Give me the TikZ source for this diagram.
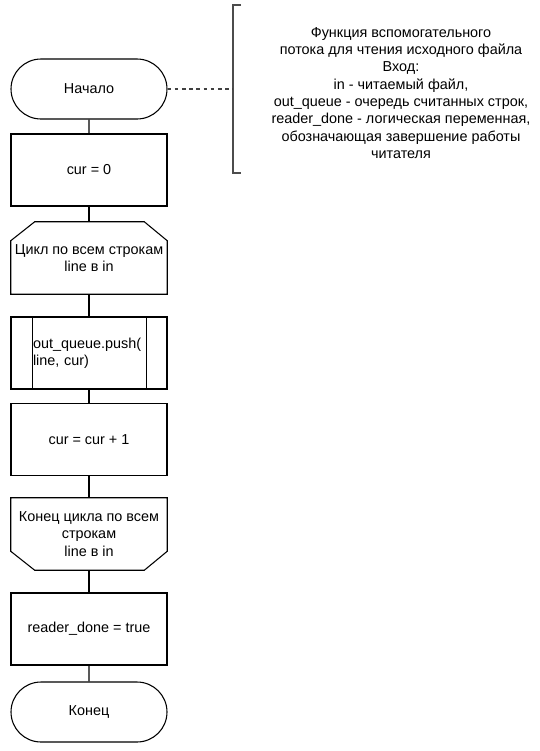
\documentclass[tikz,border=0pt]{standalone}
\usepackage{fontspec}
\setmainfont{Liberation Sans}
\usetikzlibrary{shapes.misc,calc}
\begin{document}
\begin{tikzpicture}[x=0.75pt,y=-0.75pt,
  every node/.style={font=\fontsize{10.8pt}{13pt}\selectfont},
  line/.style={draw=black,line width=0.8pt},
  term/.style={rounded rectangle,line,minimum width=117pt,minimum height=45pt,inner sep=0pt,align=center},
  proc/.style={rectangle,line,minimum width=117pt,minimum height=54pt,inner sep=0pt,align=center},
  loopbox/.style={rectangle,minimum width=117pt,minimum height=54pt,inner sep=0pt,align=center},
  conn/.style={line}]
\useasboundingbox (0,0) rectangle (540,751);
\node[term] (start) at (89,89) {Начало};
\node[proc] (b1) at (89,170) {cur = 0};
\node[loopbox] (lA) at (89,258) {Цикл по всем строкам\\line в in};
\draw[line] ($(lA.north west)+(24,0)$) -- ($(lA.north east)+(-23,0)$) -- ($(lA.north east)+(0,19)$) -- (lA.south east) -- (lA.south west) -- ($(lA.north west)+(0,19)$) -- cycle;
\node[proc,text width=84pt,align=left] (push) at (89,353) {out\_queue.push(\\line, cur)};
\draw[line] ($(push.north west)+(22,0)$) -- ($(push.south west)+(22,0)$);
\draw[line] ($(push.north east)+(-21,0)$) -- ($(push.south east)+(-21,0)$);
\node[proc] (inc) at (89,439.5) {cur = cur + 1};
\node[loopbox] (lB) at (89,534) {Конец цикла по всем\\строкам\\line в in};
\draw[line] (lB.north west) -- (lB.north east) -- ($(lB.south east)+(0,-19)$) -- ($(lB.south east)+(-23,0)$) -- ($(lB.south west)+(24,0)$) -- ($(lB.south west)+(0,-19)$) -- cycle;
\node[proc] (done) at (89,629) {reader\_done = true};
\node[term] (end) at (89,712) {Конец};
\draw[conn] (start) -- (b1);
\draw[conn] (b1) -- (lA);
\draw[conn] (lA) -- (push);
\draw[conn] (push) -- (inc);
\draw[conn] (inc) -- (lB);
\draw[conn] (lB) -- (done);
\draw[conn] (done) -- (end);
\coordinate (br) at (233,89);
\draw[draw=black!70,line width=0.8pt] (241,5) -- (233,5) -- (233,173) -- (241,173);
\draw[draw=black!75,line width=0.8pt,dash pattern=on 2.7pt off 2.7pt] (start.east) -- (br);
\node[align=center] (note) at (401,93) {Функция вспомогательного\\потока для чтения исходного файла\\Вход:\\in - читаемый файл,\\out\_queue - очередь считанных строк,\\reader\_done - логическая переменная,\\обозначающая завершение работы\\читателя};
\end{tikzpicture}
\end{document}
